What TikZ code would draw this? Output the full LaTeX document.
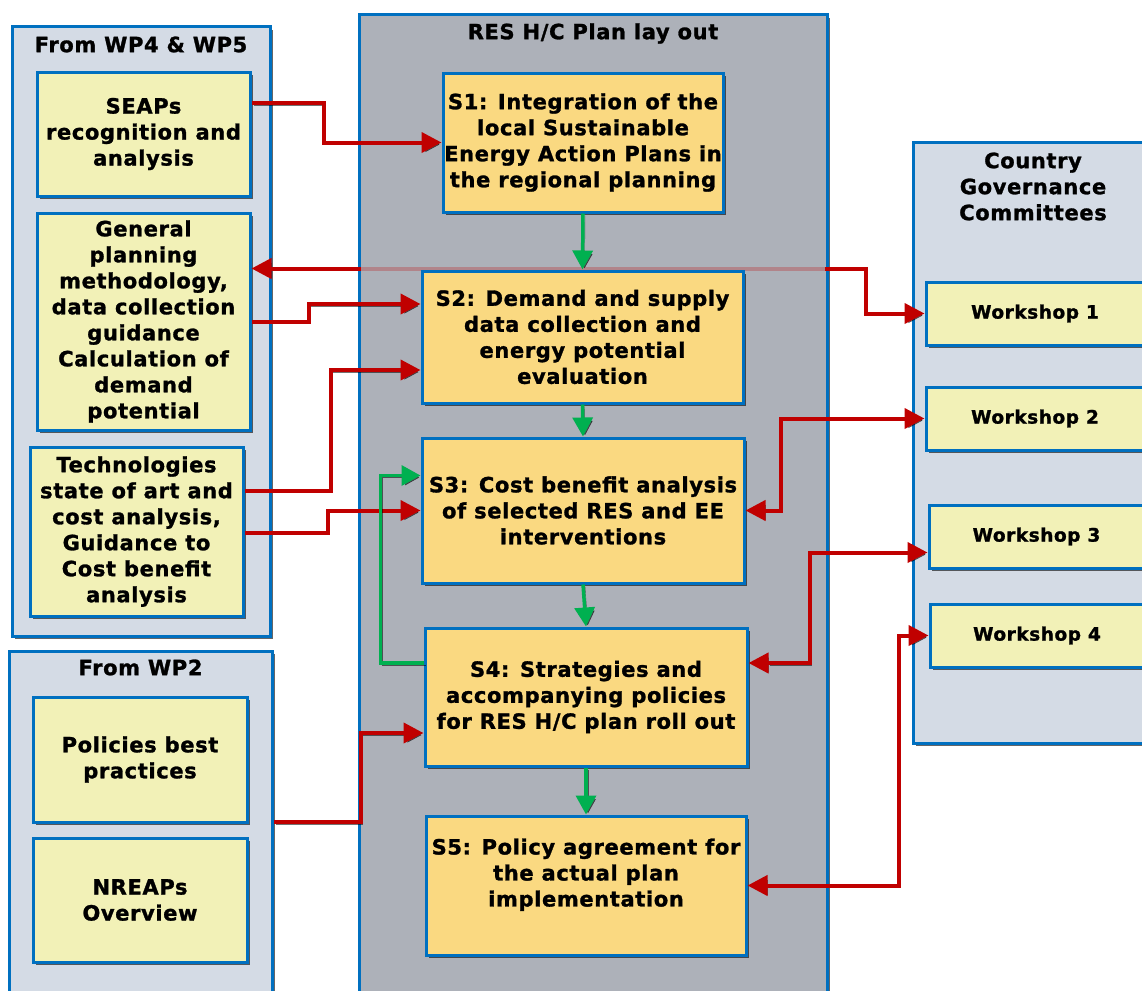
\documentclass[tikz,border=0pt]{standalone}
\usepackage{fontspec}
\newfontfamily\dejavu{DejaVu Sans}[LetterSpace=3,BoldFeatures={FakeBold=1.3}]
\usepackage{tikz}
\usetikzlibrary{arrows.meta,shadows}
\definecolor{boxblue}{HTML}{0070C0}
\definecolor{grpfill}{HTML}{D4DBE5}
\definecolor{planfill}{HTML}{ADB1B9}
\definecolor{srcfill}{HTML}{F2F1B7}
\definecolor{stepfill}{HTML}{FAD981}
\definecolor{linkred}{HTML}{C00000}
\definecolor{flowgreen}{HTML}{00B050}
\newcommand{\boxfont}{\dejavu\bfseries\fontsize{21}{26}\selectfont}
\newcommand{\wsfont}{\dejavu\bfseries\fontsize{18.5}{24}\selectfont}

\tikzset{
  boxshadow/.style={drop shadow={shadow xshift=3pt,shadow yshift=-3pt,opacity=0.6,fill=black}},
  lineshadow/.style={preaction={draw=black,opacity=0.55,transform canvas={shift={(2pt,-2pt)}}}},
  grpbox/.style={draw=boxblue,line width=3pt,fill=grpfill,inner sep=0pt,boxshadow},
  plantitle/.style={font=\boxfont,align=center,inner sep=0pt},
  srcbox/.style={draw=boxblue,line width=3pt,fill=srcfill,inner sep=0pt,align=center,font=\boxfont,boxshadow},
  stepbox/.style={srcbox,fill=stepfill},
  wsbox/.style={srcbox,font=\wsfont},
  redlink/.style={draw=linkred,line width=4pt,lineshadow,-{Triangle[length=20pt,width=20pt]}},
  redboth/.style={redlink,{Triangle[length=20pt,width=20pt]}-{Triangle[length=20pt,width=20pt]}},
  greenlink/.style={draw=flowgreen,line width=3.5pt,lineshadow,-{Triangle[length=19pt,width=20pt]}}
}

\begin{document}
\begin{tikzpicture}[x=1pt,y=-1pt]
  \useasboundingbox (0,0) rectangle (1142,990);
  \clip (0,0) rectangle (1142,990);

  % middle column
  \node[grpbox,fill=planfill,minimum width=468,minimum height=990] (plan) at (593,510) {};
  \node[plantitle] (plantitle) at ([yshift=-20pt]plan.north) {RES H/C Plan lay out};

  % inputs from WP4 and WP5
  \node[grpbox,minimum width=258,minimum height=609] (wpa) at (141,331.5) {};
  \node[plantitle] (wpatitle) at ([yshift=-19pt]wpa.north) {From WP4 \& WP5};
  \node[srcbox,minimum width=213,minimum height=124] (seap) at (143.5,134)
    {SEAPs\\recognition and\\analysis};
  \node[srcbox,minimum width=213,minimum height=217] (gen) at (143.5,321.5)
    {General\\planning\\methodology,\\data collection\\guidance\\Calculation of\\demand\\potential};
  \node[srcbox,minimum width=213,minimum height=169] (tech) at (136.5,531.5)
    {Technologies\\state of art and\\cost analysis,\\Guidance to\\Cost benefit\\analysis};

  % inputs from WP2
  \node[grpbox,minimum width=263,minimum height=342] (wpb) at (140.5,822) {};
  \node[plantitle] (wpbtitle) at ([yshift=-18pt]wpb.north) {From WP2};
  \node[srcbox,minimum width=214,minimum height=125] (pol) at (140,759.5)
    {Policies best\\practices};
  \node[srcbox,minimum width=214,minimum height=124] (nreap) at (140,900)
    {NREAPs\\Overview};

  % governance committees
  \node[grpbox,minimum width=240,minimum height=601] (cgc) at (1033,442.5) {};
  \node[plantitle] (cgctitle) at ([yshift=-46pt]cgc.north) {Country\\Governance\\Committees};
  \node[wsbox,minimum width=218,minimum height=63] (ws1) at (1035,313.5) {Workshop 1};
  \node[wsbox,minimum width=218,minimum height=63] (ws2) at (1035,418.5) {Workshop 2};
  \node[wsbox,minimum width=215,minimum height=63] (ws3) at (1036.5,536.5) {Workshop 3};
  \node[wsbox,minimum width=214,minimum height=63] (ws4) at (1037,635.5) {Workshop 4};

  % link behind the plan column
  \draw[redboth] ([yshift=53pt]gen.east) -| ([xshift=-59pt]ws1.west) -- (ws1.west);
  \fill[planfill,opacity=0.75] (361,261) rectangle (825,275);

  % plan steps
  \node[stepbox,minimum width=280,minimum height=139] (s1) at (583,142.5)
    {S1: Integration of the\\local Sustainable\\Energy Action Plans in\\the regional planning};
  \node[stepbox,minimum width=321,minimum height=132] (s2) at (582.5,337)
    {S2: Demand and supply\\data collection and\\energy potential\\evaluation};
  \node[stepbox,minimum width=322,minimum height=145] (s3) at (583,510.5)
    {S3: Cost benefit analysis\\of selected RES and EE\\interventions};
  \node[stepbox,minimum width=322,minimum height=138] (s4) at (586,697)
    {S4: Strategies and\\accompanying policies\\for RES H/C plan roll out};
  \node[stepbox,minimum width=320,minimum height=139] (s5) at (586,885.5)
    {S5: Policy agreement for\\the actual plan\\implementation\\\mbox{}};

  % inputs
  \draw[redlink] ([yshift=31pt]seap.east) -- ++(72,0) |- (s1.west);
  \draw[redlink] (gen.east) -- ++(57,0) |- ([yshift=33pt]s2.west);
  \draw[redlink] ([yshift=41pt]tech.east) -- ++(86,0) |- ([yshift=-33pt]s2.west);
  \draw[redlink] ([yshift=-1pt]tech.east) -- ++(83,0) |- (s3.west);
  \draw[redlink] (wpb.east) -- ++(87,0) |- ([yshift=-36pt]s4.west);

  % workshops
  \draw[redboth] (s3.east) -- ++(35,0) |- (ws2.west);
  \draw[redboth] ([yshift=34pt]s4.east) -- ++(61,0) |- ([yshift=-16pt]ws3.west);
  \draw[redboth] (s5.east) -- ++(151,0) |- (ws4.west);

  % step flow
  \draw[greenlink] (s1.south) -- (s2.north);
  \draw[greenlink] (s2.south) -- (s3.north);
  \draw[greenlink] (s3.south) -- (s4.north);
  \draw[greenlink] (s4.south) -- (s5.north);
  \draw[greenlink] ([yshift=34pt]s4.west) -- ++(-43,0) |- ([yshift=35pt]s3.west);
\end{tikzpicture}
\end{document}
